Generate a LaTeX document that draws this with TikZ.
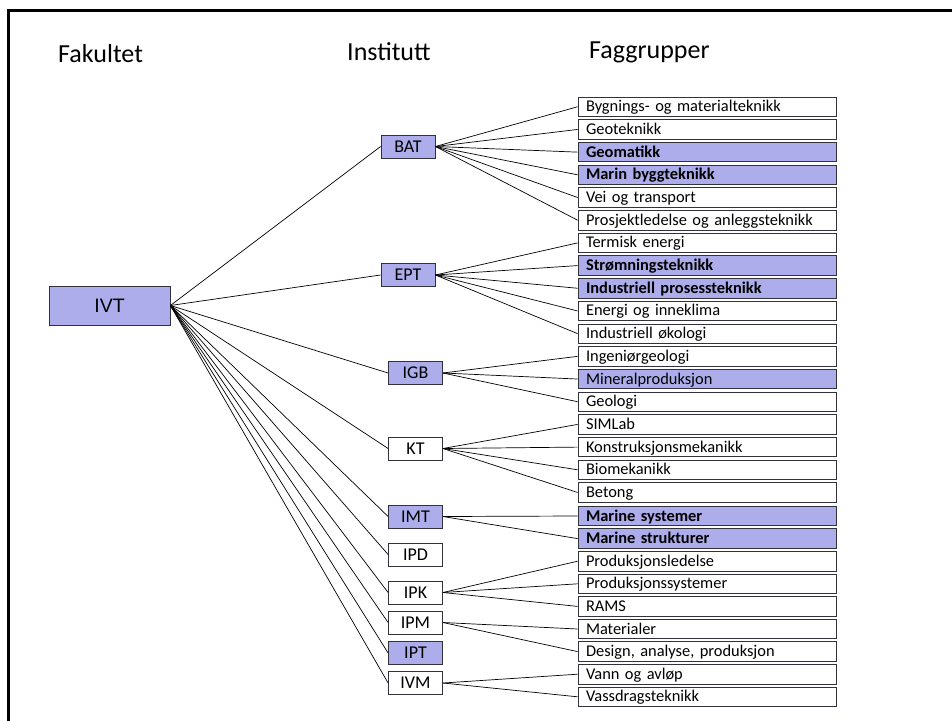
\documentclass[tikz,border=0pt]{standalone}
\usepackage{fontspec}
\setmainfont{Carlito}
\newfontfamily\arialf{Liberation Sans}
\definecolor{lav}{RGB}{173,173,235}
\definecolor{bord}{RGB}{50,50,60}
\frenchspacing
\begin{document}
\begin{tikzpicture}[x=1pt,y=-1pt,
  box/.style={draw=bord, line width=0.8pt, inner sep=0pt},
  grp/.style={box, minimum height=19.5pt, text width=242pt, text height=13pt, text depth=3pt, inner xsep=8pt, align=left, font=\fontsize{16.4}{17}\selectfont},
  grpb/.style={grp, fill=lav, font=\fontsize{16.4}{17}\selectfont\bfseries},
  grpf/.style={grp, fill=lav},
  inst/.style={box, minimum width=54pt, minimum height=23pt, font=\fontsize{18}{19}\selectfont},
  instf/.style={inst, fill=lav},
  hdr/.style={anchor=base west, inner sep=0pt, font=\fontsize{26}{30}\selectfont},
  con/.style={line width=0.7pt}]
\useasboundingbox (0,0) rectangle (952,720);
\fill[white] (0,0) rectangle (952,720);
\draw[line width=3pt] (8.7,722) -- (8.7,10.5) -- (954,10.5);

% headers
\node[hdr] (h1) at (58,62) {Fakultet};
\node[hdr] (h2) at (347,60) {Institutt};
\node[hdr] (h3) at (589,58) {Faggrupper};

% faculty
\node[box, fill=lav, minimum width=121pt, minimum height=39pt, font=\arialf\fontsize{19.5}{22}\selectfont] (ivt) at (109.5,305.5) {IVT};

% institutes
\node[instf] (bat) at (408,146.5) {BAT};
\node[instf] (ept) at (408,275) {EPT};
\node[instf] (igb) at (415.5,373) {IGB};
\node[inst]  (kt)  at (415.5,448.5) {KT};
\node[instf] (imt) at (415.5,516.5) {IMT};
\node[inst]  (ipd) at (415.5,554.5) {IPD};
\node[inst]  (ipk) at (415.5,592.5) {IPK};
\node[inst]  (ipm) at (415.5,622.5) {IPM};
\node[instf] (ipt) at (415.5,653) {IPT};
\node[inst]  (ivm) at (415.5,683) {IVM};

% groups
\node[grp]  (g1)  at (707,106.75) {Bygnings- og materialteknikk};
\node[grp]  (g2)  at (707,129.44) {Geoteknikk};
\node[grpb] (g3)  at (707,152.13) {Geomatikk};
\node[grpb] (g4)  at (707,174.82) {Marin byggteknikk};
\node[grp]  (g5)  at (707,197.51) {Vei og transport};
\node[grp]  (g6)  at (707,220.20) {Prosjektledelse og anleggsteknikk};
\node[grp]  (g7)  at (707,242.89) {Termisk energi};
\node[grpb] (g8)  at (707,265.58) {Strømningsteknikk};
\node[grpb] (g9)  at (707,288.27) {Industriell prosessteknikk};
\node[grp]  (g10) at (707,310.96) {Energi og inneklima};
\node[grp]  (g11) at (707,333.65) {Industriell økologi};
\node[grp]  (g12) at (707,356.34) {Ingeniørgeologi};
\node[grpf] (g13) at (707,379.03) {Mineralproduksjon};
\node[grp]  (g14) at (707,401.72) {Geologi};
\node[grp]  (g15) at (707,424.41) {SIMLab};
\node[grp]  (g16) at (707,447.10) {Konstruksjonsmekanikk};
\node[grp]  (g17) at (707,469.79) {Biomekanikk};
\node[grp]  (g18) at (707,492.48) {Betong};
\node[grpb] (g19) at (707,516.00) {Marine systemer};
\node[grpb] (g20) at (707,538.60) {Marine strukturer};
\node[grp]  (g21) at (707,561.20) {Produksjonsledelse};
\node[grp]  (g22) at (707,583.80) {Produksjonssystemer};
\node[grp]  (g23) at (707,606.40) {RAMS};
\node[grp]  (g24) at (707,629.00) {Materialer};
\node[grp]  (g25) at (707,651.60) {Design, analyse, produksjon};
\node[grp]  (g26) at (707,674.20) {Vann og avløp};
\node[grp]  (g27) at (707,696.80) {Vassdragsteknikk};

% connectors faculty -> institutes
\foreach \n in {bat,ept,igb,kt,imt,ipd,ipk,ipm,ipt,ivm}
  \draw[con] (ivt.east) -- (\n.west);

% institutes -> groups
\foreach \g in {g1,g2,g3,g4,g5,g6} \draw[con] (bat.east) -- (\g.west);
\foreach \g in {g7,g8,g9,g10,g11} \draw[con] (ept.east) -- (\g.west);
\foreach \g in {g12,g13,g14} \draw[con] (igb.east) -- (\g.west);
\foreach \g in {g15,g16,g17,g18} \draw[con] (kt.east) -- (\g.west);
\foreach \g in {g19,g20} \draw[con] (imt.east) -- (\g.west);
\foreach \g in {g21,g22,g23} \draw[con] (ipk.east) -- (\g.west);
\foreach \g in {g24,g25} \draw[con] (ipm.east) -- (\g.west);
\foreach \g in {g26,g27} \draw[con] (ivm.east) -- (\g.west);
\end{tikzpicture}
\end{document}
